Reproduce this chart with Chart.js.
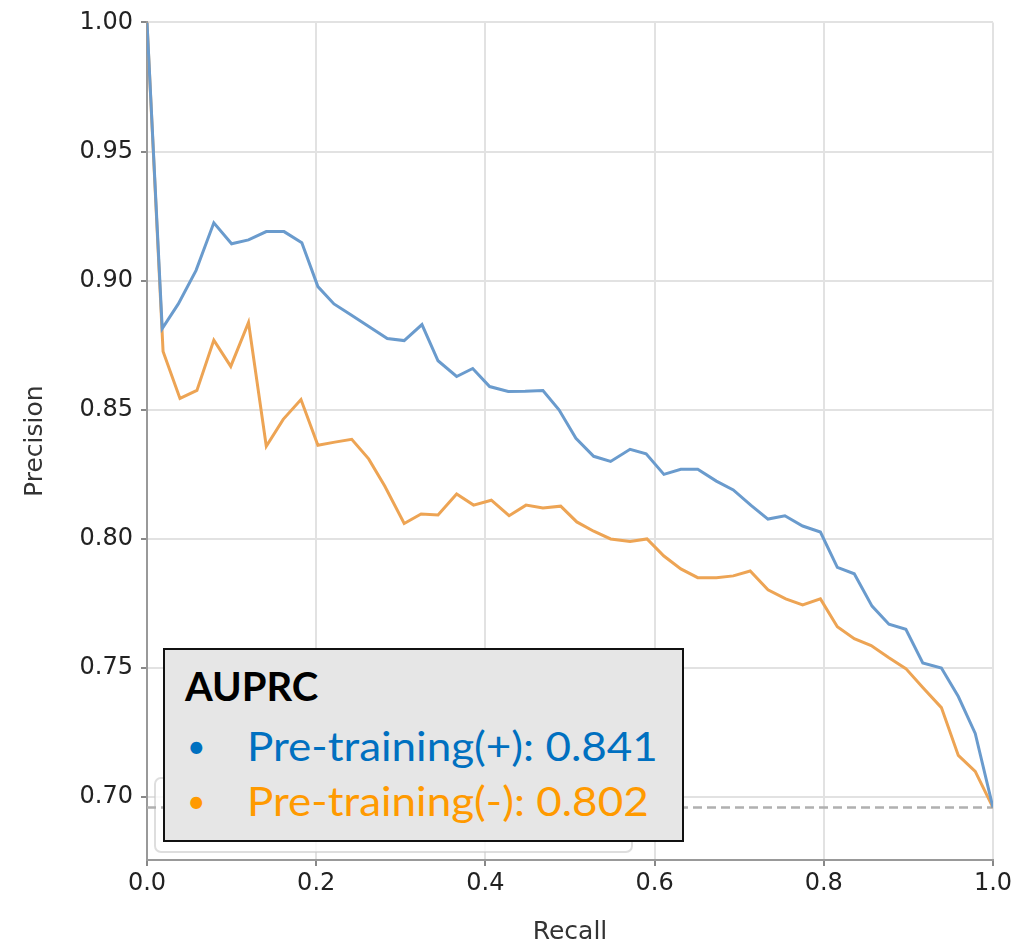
<!DOCTYPE html>
<html>
<head>
<meta charset="utf-8">
<script src="https://cdn.jsdelivr.net/npm/chart.js@4.4.0/dist/chart.umd.min.js"></script>
<style>
  html, body { margin: 0; padding: 0; background: #fff; }
  #wrap { position: relative; width: 1029px; height: 947px; }
  #cv { position: absolute; left: 0; top: 0; }
  #auprc {
    position: absolute; left: 163px; top: 648px; width: 517px; height: 190px;
    background: #e6e6e6; border: 2px solid #111; font-family: Lato, "Open Sans", sans-serif;
  }
  #auprc .ttl { position: absolute; left: 20px; top: 12px; font-size: 40px; font-weight: bold; color: #000; }
  #auprc .row { position: absolute; left: 22px; font-size: 40px; white-space: nowrap; }
  #auprc .row .dot { position: absolute; left: 0; top: 0; font-size: 32px; line-height: 48px; }
  #auprc .row .txt { position: absolute; left: 60px; top: 0; line-height: 48px; transform-origin: 0 50%; transform: scaleX(1.1); }
  #auprc .pos { top: 72px; color: #0070c0; }
  #auprc .neg { top: 127px; color: #ff9a00; }
</style>
</head>
<body>
<div id="wrap">
  <canvas id="cv" width="1029" height="947"></canvas>
  <div id="auprc">
    <div class="ttl">AUPRC</div>
    <div class="row pos"><span class="dot">•</span><span class="txt">Pre-training(+): 0.841</span></div>
    <div class="row neg"><span class="dot">•</span><span class="txt">Pre-training(-): 0.802</span></div>
  </div>
</div>
<script>
// Dados (recall, precision)
const recallPos = [0, 0.018, 0.037, 0.058, 0.079, 0.100, 0.120, 0.141, 0.162, 0.183, 0.202, 0.221, 0.240, 0.264, 0.284, 0.304, 0.325, 0.344, 0.366, 0.385, 0.405, 0.427, 0.447, 0.468, 0.487, 0.507, 0.528, 0.548, 0.571, 0.590, 0.611, 0.631, 0.651, 0.673, 0.693, 0.714, 0.734, 0.754, 0.775, 0.796, 0.816, 0.836, 0.857, 0.877, 0.897, 0.917, 0.939, 0.959, 0.979, 1.0];
const precisionPos = [1.0, 0.8815, 0.891, 0.904, 0.9224, 0.9143, 0.9158, 0.919, 0.919, 0.9147, 0.8977, 0.891, 0.887, 0.8819, 0.8776, 0.8768, 0.883, 0.869, 0.8629, 0.866, 0.859, 0.8571, 0.8572, 0.8575, 0.850, 0.839, 0.832, 0.830, 0.8347, 0.833, 0.825, 0.827, 0.827, 0.8224, 0.819, 0.813, 0.8077, 0.809, 0.805, 0.8027, 0.789, 0.7865, 0.774, 0.767, 0.765, 0.752, 0.750, 0.739, 0.7247, 0.696];

const recallNeg = [0, 0.019, 0.039, 0.059, 0.079, 0.099, 0.120, 0.141, 0.161, 0.182, 0.202, 0.222, 0.242, 0.262, 0.281, 0.304, 0.324, 0.344, 0.366, 0.386, 0.407, 0.428, 0.448, 0.468, 0.489, 0.508, 0.528, 0.548, 0.571, 0.591, 0.611, 0.631, 0.651, 0.673, 0.693, 0.713, 0.734, 0.755, 0.775, 0.796, 0.816, 0.836, 0.856, 0.877, 0.897, 0.917, 0.939, 0.959, 0.979, 1.0];
const precisionNeg = [1.0, 0.8726, 0.8544, 0.8575, 0.877, 0.8668, 0.8838, 0.8359, 0.8463, 0.854, 0.8363, 0.8375, 0.8386, 0.831, 0.8205, 0.806, 0.8097, 0.8093, 0.8174, 0.8131, 0.815, 0.809, 0.8131, 0.812, 0.8127, 0.8066, 0.803, 0.800, 0.799, 0.800, 0.7934, 0.7884, 0.785, 0.785, 0.7857, 0.7876, 0.7803, 0.7768, 0.7745, 0.7768, 0.766, 0.7614, 0.7587, 0.754, 0.7498, 0.7425, 0.7347, 0.7162, 0.710, 0.696];

// Linha de base (proporção de positivos)
const baselineX = [0, 1];
const baselineY = [0.696, 0.696];

const yTicks = [0.70, 0.75, 0.80, 0.85, 0.90, 0.95, 1.00];

function toPoints(xs, ys) {
  return xs.map((x, i) => ({ x: x, y: ys[i] }));
}

// Caixa de legenda original do matplotlib (quase invisível, atrás da caixa AUPRC)
const faintLegend = {
  id: 'faintLegend',
  beforeDatasetsDraw(chart) {
    const ctx = chart.ctx;
    ctx.save();
    ctx.strokeStyle = 'rgba(200,200,200,0.6)';
    ctx.fillStyle = 'rgba(255,255,255,0.8)';
    ctx.lineWidth = 2;
    ctx.beginPath();
    ctx.roundRect(155, 778, 477, 74, 6);
    ctx.fill();
    ctx.stroke();
    ctx.restore();
  }
};

const tickFont = { family: '"DejaVu Sans", sans-serif', size: 24 };
const titleFont = { family: '"DejaVu Sans", sans-serif', size: 25 };

new Chart(document.getElementById('cv'), {
  type: 'scatter',
  data: {
    datasets: [
      {
        label: 'Pre-training(+)',
        data: toPoints(recallPos, precisionPos),
        showLine: true,
        borderColor: '#6a9bcd',
        borderWidth: 3,
        pointRadius: 0,
        tension: 0
      },
      {
        label: 'Pre-training(-)',
        data: toPoints(recallNeg, precisionNeg),
        showLine: true,
        borderColor: '#eda454',
        borderWidth: 3,
        pointRadius: 0,
        tension: 0
      },
      {
        label: 'baseline',
        data: toPoints(baselineX, baselineY),
        showLine: true,
        borderColor: '#b0b0b0',
        borderWidth: 2.5,
        borderDash: [9, 5],
        pointRadius: 0
      }
    ]
  },
  options: {
    responsive: false,
    animation: false,
    layout: { padding: { top: 20, right: 36, left: 0, bottom: 0 } },
    plugins: {
      legend: { display: false },
      tooltip: { enabled: false }
    },
    scales: {
      x: {
        type: 'linear',
        min: 0,
        max: 1,
        afterFit: (s) => { s.height = 87; },
        border: { color: '#999', width: 2 },
        grid: { color: '#e2e2e2', lineWidth: 2, tickLength: 6, tickColor: '#888' },
        ticks: {
          stepSize: 0.2,
          padding: 3,
          color: '#222',
          font: tickFont,
          callback: (v) => Number(v).toFixed(1)
        },
        title: {
          display: true,
          text: 'Recall',
          color: '#333',
          font: titleFont,
          padding: { top: 0, bottom: 0 }
        }
      },
      y: {
        type: 'linear',
        min: 0.6757,
        max: 1.0,
        afterFit: (s) => { s.width = 147; },
        afterBuildTicks: (s) => { s.ticks = yTicks.map(v => ({ value: v })); },
        border: { color: '#999', width: 2 },
        grid: { color: '#e2e2e2', lineWidth: 2, tickLength: 6, tickColor: '#888' },
        ticks: {
          padding: 8,
          color: '#222',
          font: tickFont,
          callback: (v) => Number(v).toFixed(2)
        },
        title: {
          display: true,
          text: 'Precision',
          color: '#333',
          font: titleFont,
          padding: { top: 20, bottom: 0 }
        }
      }
    }
  },
  plugins: [faintLegend]
});
</script>
</body>
</html>
